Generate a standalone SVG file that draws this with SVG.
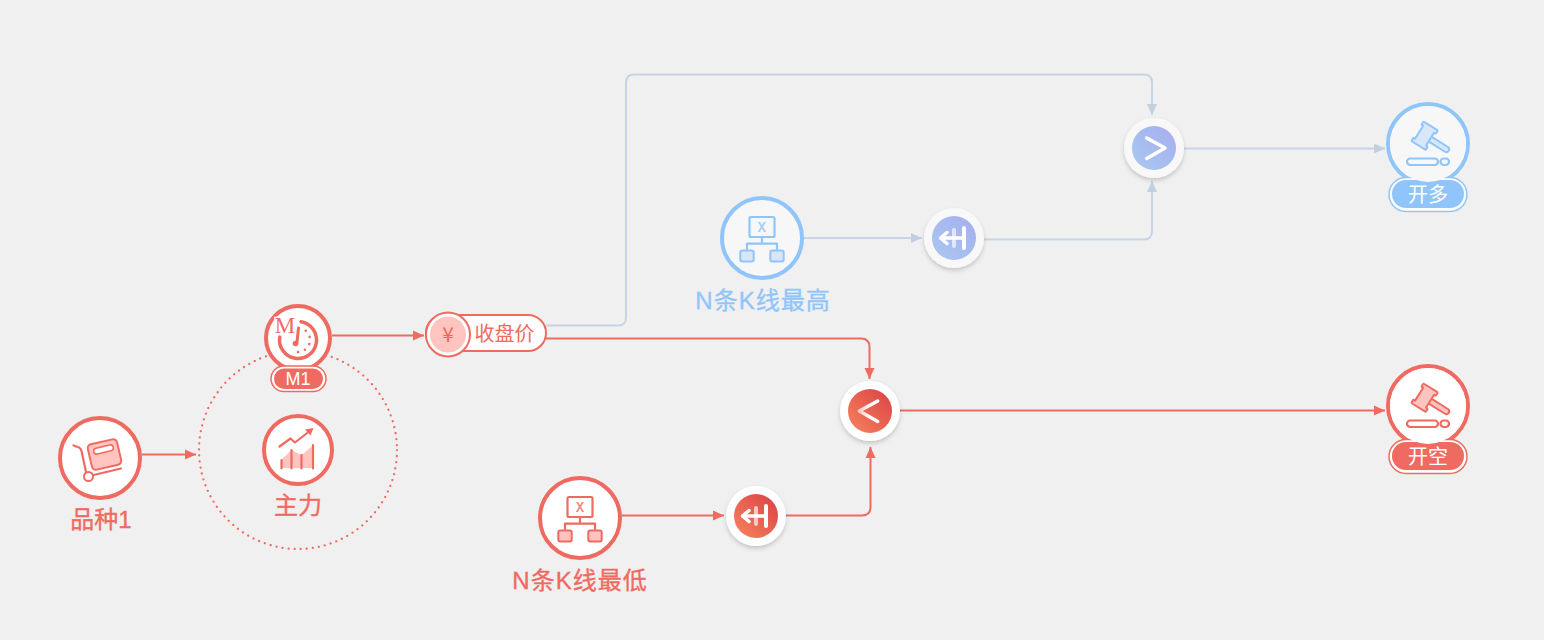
<svg xmlns="http://www.w3.org/2000/svg" width="1544" height="640" viewBox="0 0 1544 640">
<style>
text{font-family:"Liberation Sans","Noto Sans CJK SC",sans-serif;text-anchor:middle}
.red{color:#ef6a60;--t:#ffc4bf;--b:#fff}.blue{color:#90c5fb;--t:#d9e6f8;--b:#f7f7f8}
.ring{stroke:currentColor;stroke-width:4;fill:var(--b)}
.lab{fill:currentColor;font-size:24px;stroke:currentColor;stroke-width:.35px}
.wide{letter-spacing:1px}
.ln{fill:none;stroke:currentColor;stroke-width:2.200;stroke-linecap:round;stroke-linejoin:round}
.tint{stroke:currentColor;stroke-width:2;stroke-linejoin:round;fill:var(--t)}
.wl{fill:none;stroke:#fff;stroke-width:3.500;stroke-linecap:round;stroke-linejoin:round}
.cr{fill:none;stroke:#ef6a60;stroke-width:2}
.cb{fill:none;stroke:#c6d4e5;stroke-width:2}
.wht{fill:#fff}
.dot{fill:currentColor}
</style>
<defs>
<marker id="ar" markerUnits="userSpaceOnUse" markerWidth="12" markerHeight="12" refX="11" refY="5.500" orient="auto"><path d="M0 .5L11 5.500L0 10.500Z" fill="#ef6a60"/></marker>
<marker id="ab" markerUnits="userSpaceOnUse" markerWidth="12" markerHeight="12" refX="11" refY="5.500" orient="auto"><path d="M0 .5L11 5.500L0 10.500Z" fill="#c0cfe2"/></marker>
<linearGradient id="gr" x1="0" y1="1" x2="1" y2="0"><stop offset="0" stop-color="#f7845f"/><stop offset="1" stop-color="#da4145"/></linearGradient>
<linearGradient id="gb" x1="0" y1="1" x2="1" y2="0"><stop offset="0" stop-color="#a9c8ef"/><stop offset="1" stop-color="#a6aef0"/></linearGradient>
<linearGradient id="fade" x1="0" y1="0" x2="1" y2="0"><stop offset="0" stop-color="#fff" stop-opacity=".65"/><stop offset=".6" stop-color="#fff"/></linearGradient>
<filter id="sh" x="-30%" y="-30%" width="160%" height="170%"><feDropShadow dx="0" dy="2.500" stdDeviation="2" flood-color="#000" flood-opacity=".18"/></filter>
<g id="org">
<rect x="-12.500" y="-21" width="25" height="20" rx="1.500" class="ln"/>
<path d="M0 -1V5.700M-15 11V5.700H15V11" class="ln"/>
<rect x="-21.700" y="12.500" width="13.400" height="11" rx="2" class="tint"/>
<rect x="8.300" y="12.500" width="13.400" height="11" rx="2" class="tint"/>
<text x="0" y="-6" font-size="14" font-weight="bold" style="font-family:'Liberation Mono',monospace" fill="currentColor" opacity=".8">X</text>
</g>
<g id="gavel">
<g transform="translate(-3 -8) rotate(32)">
<rect x="3" y="-2.800" width="25" height="5.600" rx="2.800" fill="var(--t)" stroke="currentColor" stroke-width="2"/>
<path d="M-8 -11.500H7Q8 -11.500 8 -10.500V-8.500Q8 -7.500 7 -7.500H6V7.500H7Q8 7.500 8 8.500V10.500Q8 11.500 7 11.500H-8Q-9 11.500 -9 10.500V8.500Q-9 7.500 -8 7.500H-7V-7.500H-8Q-9 -7.500 -9 -8.500V-10.500Q-9 -11.500 -8 -11.500Z" class="tint"/>
</g>
<rect x="-21" y="14.500" width="31" height="6.500" rx="3.200" class="ln"/>
<rect x="12.500" y="14.500" width="8.500" height="6.500" rx="3.200" class="ln"/>
</g>
<g id="shiftI">
<rect x="-2" y="-10" width="4" height="20" rx="2" fill="#fff" opacity=".65"/>
<path d="M10 -10V10" class="wl" style="stroke-width:4"/>
<path d="M-13 0H10M-7 -5.500L-13.500 0L-7 5.500" class="wl"/>
</g>
</defs>
<rect width="1544" height="640" fill="#f0f0f0"/>
<circle cx="298" cy="450" r="99" fill="none" stroke="#ef6a60" stroke-width="2.200" stroke-linecap="round" stroke-dasharray="0.1 6"/>
<g id="connectors">
<path class="cr" marker-end="url(#ar)" d="M142 454.500H196"/>
<path class="cr" marker-end="url(#ar)" d="M332 335.500H424"/>
<path class="cb" marker-end="url(#ab)" d="M546 325.500H618Q626 325.500 626 317.500V82.500Q626 74.500 634 74.500H1144Q1152 74.500 1152 82.500V115"/>
<path class="cr" marker-end="url(#ar)" d="M546 338.500H861Q869.500 338.500 869.500 347V379"/>
<path class="cb" marker-end="url(#ab)" d="M804 238H922"/>
<path class="cb" marker-end="url(#ab)" d="M984 239.500H1144Q1152 239.500 1152 231.500V181"/>
<path class="cb" marker-end="url(#ab)" d="M1184 148.500H1385"/>
<path class="cr" marker-end="url(#ar)" d="M900 410.500H1385"/>
<path class="cr" marker-end="url(#ar)" d="M622 515.500H724"/>
<path class="cr" marker-end="url(#ar)" d="M786 515.500H862Q870.500 515.500 870.500 507V447"/>
</g>
<g id="n-variety" class="red">
<circle class="ring" cx="100" cy="458" r="40"/>
<rect x="89.500" y="441.500" width="30" height="26" rx="4" transform="rotate(-13 104.500 454.500)" class="tint"/>
<rect x="93.500" y="446.500" width="20" height="6" rx="3" transform="rotate(-13 103.500 449.500)" fill="#fff" stroke="currentColor" stroke-width="1.500"/>
<path d="M73.500 445.500L79 447.500Q81 448.500 81.500 451L86 472M93.500 475L121 468.500" class="ln"/>
<circle cx="88.500" cy="476.500" r="4.500" fill="#fff" stroke="currentColor" stroke-width="2"/>
<text class="lab" x="101" y="528">品种1</text>
</g>
<g id="n-main" class="red">
<circle class="ring" cx="298" cy="450" r="34"/>
<path d="M281 460L291.500 450L301.500 455L313.500 445V468H281Z" fill="#ffc4bf"/>
<path d="M281.500 460V468.500M291.500 450V468.500M301.500 455V468.500M313 445V468.500" class="ln"/>
<path d="M279.500 446.500L290.500 438.500L295 442.500L311 430" class="ln"/>
<path d="M313.500 428L305 429.500L310.500 435.500Z" fill="currentColor"/>
<text class="lab" x="298" y="514">主力</text>
</g>
<g id="n-period" class="red">
<circle class="ring" cx="298" cy="338" r="32"/>
<path d="M301 321.800A18.500 18.500 0 1 1 279.800 337" fill="none" stroke="currentColor" stroke-width="3.500" stroke-linecap="round"/>
<path d="M298.500 328L297 342" class="ln" style="stroke-width:3"/>
<circle cx="295.500" cy="343.500" r="2.800" class="dot"/>
<circle cx="305.700" cy="330.800" r="1.300" class="dot"/><circle cx="309.600" cy="336.900" r="1.300" class="dot"/><circle cx="309.300" cy="344.100" r="1.300" class="dot"/><circle cx="304.900" cy="349.800" r="1.300" class="dot"/><circle cx="298" cy="352" r="1.300" class="dot"/>
<text x="285" y="333" font-size="23" style="font-family:'Liberation Serif',serif" fill="currentColor" stroke="#fff" stroke-width="2.500" paint-order="stroke">M</text>
<rect x="271" y="366" width="55" height="25.500" rx="12.700" fill="#fff" stroke="currentColor" stroke-width="1.500"/>
<rect x="274" y="368.500" width="49" height="20.500" rx="10.200" fill="currentColor"/>
<text x="298" y="385" font-size="18" fill="#fff">M1</text>
</g>
<g id="n-close" class="red">
<rect x="426" y="315" width="120" height="36" rx="18" fill="#fff" stroke="currentColor" stroke-width="2"/>
<circle cx="448" cy="334.500" r="22" fill="#fff" stroke="currentColor" stroke-width="2"/>
<circle cx="448" cy="334.500" r="18" fill="#ffc4bf"/>
<text x="448" y="342" font-size="21" style="font-family:'Noto Sans CJK SC',sans-serif" fill="currentColor">¥</text>
<text x="504.500" y="340.500" font-size="20" fill="currentColor">收盘价</text>
</g>
<g id="n-high" class="blue">
<circle class="ring" cx="762" cy="238" r="40"/>
<use href="#org" x="762" y="238"/>
<text class="lab wide" x="763" y="308.500">N条K线最高</text>
</g>
<g id="n-low" class="red">
<circle class="ring" cx="580" cy="518" r="40"/>
<use href="#org" x="580" y="518"/>
<text class="lab wide" x="580" y="588.500">N条K线最低</text>
</g>
<g id="n-shift-high">
<circle cx="954" cy="238" r="30" fill="#f8f8f8" filter="url(#sh)"/>
<circle cx="954" cy="238" r="22" fill="url(#gb)"/>
<use href="#shiftI" x="954" y="238"/>
</g>
<g id="n-shift-low">
<circle cx="756" cy="516" r="30" class="wht" filter="url(#sh)"/>
<circle cx="756" cy="516" r="22" fill="url(#gr)"/>
<use href="#shiftI" x="756" y="516"/>
</g>
<g id="n-gt">
<circle cx="1154" cy="148" r="30" fill="#f8f8f8" filter="url(#sh)"/>
<circle cx="1154" cy="148" r="22" fill="url(#gb)"/>
<path d="M-7.300 -10L11 0L-7.300 10.500" class="wl" transform="translate(1154 148)"/>
</g>
<g id="n-lt">
<circle cx="870" cy="411" r="30" class="wht" filter="url(#sh)"/>
<circle cx="870" cy="411" r="22" fill="url(#gr)"/>
<path d="M7.700 -10L-10.700 0L7.700 10.500" class="wl" style="stroke:url(#fade)" transform="translate(870 411)"/>
</g>
<g id="n-long" class="blue">
<circle class="ring" cx="1428" cy="144" r="40"/>
<rect x="1389" y="177.500" width="78" height="34" rx="17" fill="#fff" stroke="currentColor" stroke-width="1.500"/>
<rect x="1392" y="180" width="72" height="28" rx="14" fill="currentColor"/>
<circle cx="1428" cy="144" r="38" fill="#f7f7f8"/>
<use href="#gavel" x="1428" y="144"/>
<text x="1428" y="202" font-size="20" fill="#fff">开多</text>
</g>
<g id="n-short" class="red">
<circle class="ring" cx="1428" cy="406" r="40"/>
<rect x="1389" y="439.500" width="78" height="34" rx="17" fill="#fff" stroke="currentColor" stroke-width="1.500"/>
<rect x="1392" y="442" width="72" height="28" rx="14" fill="currentColor"/>
<circle cx="1428" cy="406" r="38" fill="#fff"/>
<use href="#gavel" x="1428" y="406"/>
<text x="1428" y="464" font-size="20" fill="#fff">开空</text>
</g>
</svg>
